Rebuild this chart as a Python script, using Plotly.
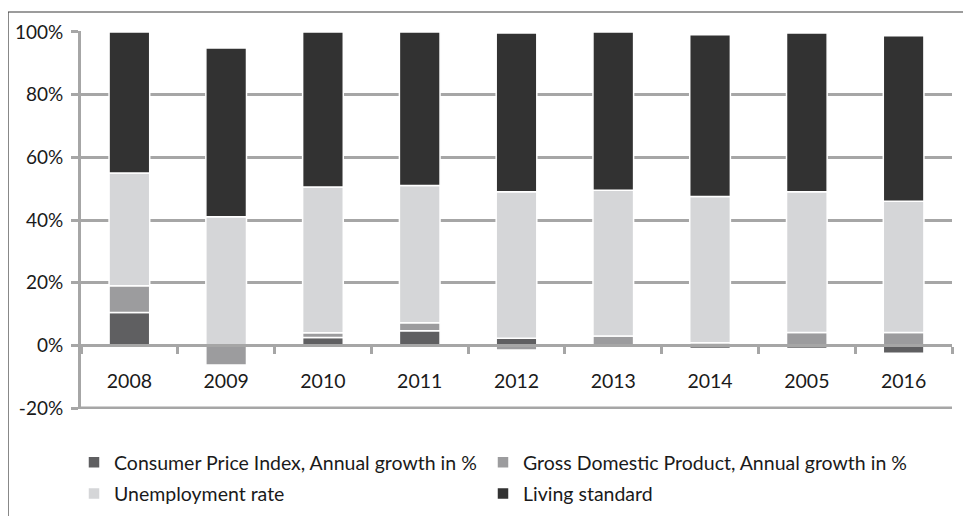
import plotly.graph_objects as go

categories = ["2008", "2009", "2010", "2011", "2012", "2013", "2014", "2005", "2016"]
cpi = [10.5, 0.0, 2.5, 4.7, 2.3, -0.5, -1.0, -1.0, -2.5]
gdp = [8.5, -6.3, 1.5, 2.5, -1.5, 3.0, 0.8, 4.1, 4.1]
unemployment = [36.0, 41.0, 46.5, 43.8, 46.7, 46.5, 46.7, 44.9, 41.9]
living_standard = [45.0, 53.9, 49.5, 49.0, 50.7, 50.5, 51.6, 50.7, 52.8]

y_tick_values = [-20, 0, 20, 40, 60, 80, 100]
y_tick_labels = ["-20%", "0%", "20%", "40%", "60%", "80%", "100%"]

series_names = [
    "Consumer Price Index, Annual growth in %",
    "Gross Domestic Product, Annual growth in %",
    "Unemployment rate",
    "Living standard",
]
series_values = [cpi, gdp, unemployment, living_standard]
series_colors = ["#5f5f61", "#9c9c9e", "#d5d6d8", "#323232"]
series_legends = ["legend", "legend2", "legend", "legend2"]

FONT = "Lato"
TXT = "#1a1a1a"
GRID = "#a6a6a6"

fig = go.Figure()
for i, (name, vals, col, lg) in enumerate(zip(series_names, series_values, series_colors, series_legends)):
    fig.add_trace(go.Bar(
        x=categories, y=vals, name=name, legend=lg, legendgroup=f"g{i}",
        marker=dict(color=col, line=dict(color="white", width=1.5)),
    ))

# the page body adds an 8px offset; figure coordinates are screen - 8
OFF = 8
W, H = 971, 516
ml, mt = 81 - OFF, 31 - OFF
mr = W - (952 - OFF)
mb = H - (409 - OFF)
pw = W - ml - mr
ph = H - mt - mb

legend_common = dict(
    orientation="v", xanchor="left", yanchor="top",
    y=-(443 - OFF - (mt + ph)) / ph,
    font=dict(family=FONT, size=19.5, color=TXT),
    itemwidth=30, tracegroupgap=3,
    bgcolor="rgba(0,0,0,0)",
)

fig.update_layout(
    width=W, height=H,
    margin=dict(l=ml, r=mr, t=mt, b=mb, pad=0, autoexpand=False),
    barmode="relative",
    bargap=0.58,
    plot_bgcolor="white",
    paper_bgcolor="white",
    font=dict(family=FONT, size=19, color=TXT),
    showlegend=True,
    legend=dict(x=(66 - ml) / pw, **legend_common),
    legend2=dict(x=(475 - ml) / pw, **legend_common),
    yaxis=dict(
        range=[-20.3, 100.3],
        tickmode="array", tickvals=y_tick_values, ticktext=y_tick_labels,
        showgrid=True, gridcolor=GRID, gridwidth=3,
        zeroline=False, automargin=False,
        showline=True, linecolor=GRID, linewidth=3,
        ticks="outside", ticklen=7, tickcolor=GRID, tickwidth=3,
        ticklabelstandoff=4,
        tickfont=dict(family=FONT, size=19, color=TXT),
    ),
    xaxis=dict(
        type="category", automargin=False,
        anchor="free", position=20.3 / 120.6,
        showline=True, linecolor=GRID, linewidth=3,
        tickson="boundaries", ticks="outside", ticklen=7,
        tickcolor=GRID, tickwidth=3,
        ticklabelstandoff=17,
        showgrid=False,
        tickfont=dict(family=FONT, size=19.5, color=TXT),
    ),
)

# bottom gridline at the lowest tick
fig.add_shape(
    type="line", xref="paper", yref="y",
    x0=0, x1=1, y0=y_tick_values[0], y1=y_tick_values[0],
    line=dict(color=GRID, width=3), layer="below",
)

# outer chart frame
fig.add_shape(
    type="rect", xref="paper", yref="paper",
    x0=(8 - OFF - ml) / pw, x1=(990 - ml) / pw,
    y0=-(540 - (mt + ph)) / ph, y1=1 + (mt - (12 - OFF)) / ph,
    line=dict(color="#3a3a3a", width=1.2), fillcolor="rgba(0,0,0,0)",
    layer="below",
)

fig.write_html("out.html")
